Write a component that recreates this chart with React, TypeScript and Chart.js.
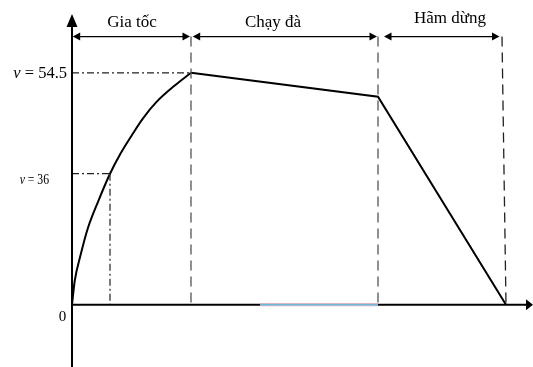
import React, { useEffect, useRef } from "react";
import { Chart, registerables } from "chart.js";

Chart.register(...registerables);

// Acceleration phase (curved) (arbitrary time units)
const accelT = [0, 0.27, 0.87, 1.6, 2.6, 3.8, 4.87, 6.0, 7.1, 8.43, 10.27, 11.9];
const accelV = [0, 5.6, 11.8, 18.1, 24.2, 30.8, 35.6, 39.9, 43.8, 47.6, 51.5, 54.5];
// Cruise + braking phases (straight)
const cruiseBrakeT = [11.9, 30.6, 43.4];
const cruiseBrakeV = [54.5, 48.9, 0];

const phaseLabels = ["Gia tốc", "Chạy đà", "Hãm dừng"];
const phaseLabelT = [6.0, 20.1, 37.8];
const phaseStartT = [0.07, 12.07, 31.2];
const phaseEndT = [11.8, 30.5, 42.75];
const boundaryTopT = [11.9, 30.6, 43.0];
const boundaryBottomT = [11.9, 30.6, 43.4];
const dimensionRowV = 63;

// marked point (drawn not to scale in the source, labelled v = 36)
const markT = 3.8;
const markV = 30.8;
const peakT = 11.9;
const peakV = 54.5;
const peakLabel = ["v", " = 54.5"];
const markLabel = ["v", " = 36"];
const originLabel = "0";
const highlightT = [18.8, 30.6];

const SERIF = "'Liberation Serif', 'DejaVu Serif', serif";

const overlay = {
  id: "overlay",
  afterDatasetsDraw(chart: any) {
    const { ctx, chartArea } = chart;
    const xs = chart.scales.x;
    const ys = chart.scales.y;
    const X = (v: number) => xs.getPixelForValue(v);
    const Y = (v: number) => ys.getPixelForValue(v);
    const x0 = X(0);
    const y0 = Y(0);
    ctx.save();
    ctx.setLineDash([]);
    ctx.fillStyle = "#000";
    ctx.strokeStyle = "#000";

    // x axis
    const xr = chartArea.right;
    ctx.lineWidth = 2;
    ctx.beginPath();
    ctx.moveTo(x0, y0);
    ctx.lineTo(xr - 6, y0);
    ctx.stroke();
    ctx.beginPath();
    ctx.moveTo(xr, y0);
    ctx.lineTo(xr - 7, y0 - 5.5);
    ctx.lineTo(xr - 7, y0 + 5.5);
    ctx.closePath();
    ctx.fill();
    // coloured segment of the axis
    ctx.lineWidth = 3;
    ctx.strokeStyle = "#e6b3bd";
    ctx.beginPath();
    ctx.moveTo(X(highlightT[0]), y0);
    ctx.lineTo(X(highlightT[1]), y0);
    ctx.stroke();
    ctx.lineWidth = 1.5;
    ctx.strokeStyle = "#6cb8d8";
    ctx.beginPath();
    ctx.moveTo(X(highlightT[0]), y0);
    ctx.lineTo(X(highlightT[1]), y0);
    ctx.stroke();

    // y axis
    ctx.strokeStyle = "#000";
    ctx.lineWidth = 2;
    const yt = chartArea.top + 14;
    ctx.beginPath();
    ctx.moveTo(x0, chartArea.bottom);
    ctx.lineTo(x0, yt + 10);
    ctx.stroke();
    ctx.beginPath();
    ctx.moveTo(x0, yt);
    ctx.lineTo(x0 - 5.5, yt + 13);
    ctx.lineTo(x0 + 5.5, yt + 13);
    ctx.closePath();
    ctx.fill();

    // dimension arrows
    const ry = Y(dimensionRowV);
    ctx.lineWidth = 1.2;
    for (let i = 0; i < phaseStartT.length; i++) {
      const a = X(phaseStartT[i]);
      const b = X(phaseEndT[i]);
      ctx.beginPath();
      ctx.moveTo(a + 5, ry);
      ctx.lineTo(b - 5, ry);
      ctx.stroke();
      ctx.beginPath();
      ctx.moveTo(a, ry);
      ctx.lineTo(a + 7.5, ry - 4);
      ctx.lineTo(a + 7.5, ry + 4);
      ctx.closePath();
      ctx.fill();
      ctx.beginPath();
      ctx.moveTo(b, ry);
      ctx.lineTo(b - 7.5, ry - 4);
      ctx.lineTo(b - 7.5, ry + 4);
      ctx.closePath();
      ctx.fill();
    }

    // phase labels
    ctx.font = `17px ${SERIF}`;
    ctx.textAlign = "center";
    ctx.textBaseline = "alphabetic";
    for (let i = 0; i < phaseLabels.length; i++) {
      const by = i === 2 ? ry - 14 : ry - 10;
      ctx.fillText(phaseLabels[i], X(phaseLabelT[i]), by);
    }

    // value labels
    ctx.textAlign = "left";
    ctx.textBaseline = "middle";
    const drawLabel = (parts: string[], right: number, cy: number, size: number, sx: number) => {
      ctx.save();
      ctx.font = `italic ${size}px ${SERIF}`;
      const w1 = ctx.measureText(parts[0]).width;
      ctx.font = `${size}px ${SERIF}`;
      const w2 = ctx.measureText(parts[1]).width;
      const total = (w1 + w2) * sx;
      ctx.translate(right - total, cy);
      ctx.scale(sx, 1);
      ctx.font = `italic ${size}px ${SERIF}`;
      ctx.fillText(parts[0], 0, 0);
      ctx.font = `${size}px ${SERIF}`;
      ctx.fillText(parts[1], w1, 0);
      ctx.restore();
    };
    drawLabel(peakLabel, x0 - 5, Y(peakV) + 1, 16.5, 1);
    drawLabel(markLabel, x0 - 23, Y(markV) + 6, 15, 0.78);

    ctx.font = `15px ${SERIF}`;
    ctx.textAlign = "center";
    ctx.fillText(originLabel, x0 - 9.5, y0 + 12);

    ctx.restore();
  },
};

export default function App() {
  const ref = useRef<HTMLCanvasElement | null>(null);
  useEffect(() => {
    if (!ref.current) return;
    const pts = (ts: number[], vs: number[]) => ts.map((t, i) => ({ x: t, y: vs[i] }));
    const dashed = [10, 6];
    const dashDot = [7, 3, 2, 3];
    const refLine = (data: { x: number; y: number }[], dash: number[], color: string) => ({
      data,
      borderColor: color,
      borderWidth: 1.3,
      borderDash: dash,
      pointRadius: 0,
      showLine: true,
      tension: 0,
      clip: false as any,
    });
    const datasets: any[] = [
      refLine([{ x: 0, y: peakV }, { x: peakT, y: peakV }], dashDot, "#222"),
      refLine([{ x: 0, y: markV }, { x: markT, y: markV }], dashDot, "#222"),
      refLine([{ x: markT, y: markV }, { x: markT, y: 0 }], dashDot, "#333"),
    ];
    for (let i = 0; i < boundaryTopT.length; i++) {
      datasets.push(
        refLine(
          [
            { x: boundaryTopT[i], y: dimensionRowV },
            { x: boundaryBottomT[i], y: 0 },
          ],
          dashed,
          i === 2 ? "#222" : "#555"
        )
      );
    }
    datasets.push({
      data: pts(accelT, accelV),
      borderColor: "#000",
      borderWidth: 2,
      pointRadius: 0,
      showLine: true,
      cubicInterpolationMode: "monotone",
      clip: false,
    });
    datasets.push({
      data: pts(cruiseBrakeT, cruiseBrakeV),
      borderColor: "#000",
      borderWidth: 2,
      pointRadius: 0,
      showLine: true,
      tension: 0,
      clip: false,
    });
    const chart = new Chart(ref.current, {
      type: "scatter",
      data: { datasets },
      options: {
        animation: false,
        responsive: false,
        maintainAspectRatio: false,
        layout: { padding: { left: 72, right: 0, top: 0, bottom: 0 } },
        plugins: { legend: { display: false }, tooltip: { enabled: false } },
        scales: {
          x: { type: "linear", min: 0, max: 46.1, display: false },
          y: { type: "linear", min: -14.6, max: 71.6, display: false },
        },
      },
      plugins: [overlay],
    });
    return () => chart.destroy();
  }, []);
  return (
    <div style={{ position: "fixed", left: 0, top: 0, width: 533, height: 367, background: "#fff" }}>
      <canvas ref={ref} width={533} height={367} style={{ display: "block" }} />
    </div>
  );
}
